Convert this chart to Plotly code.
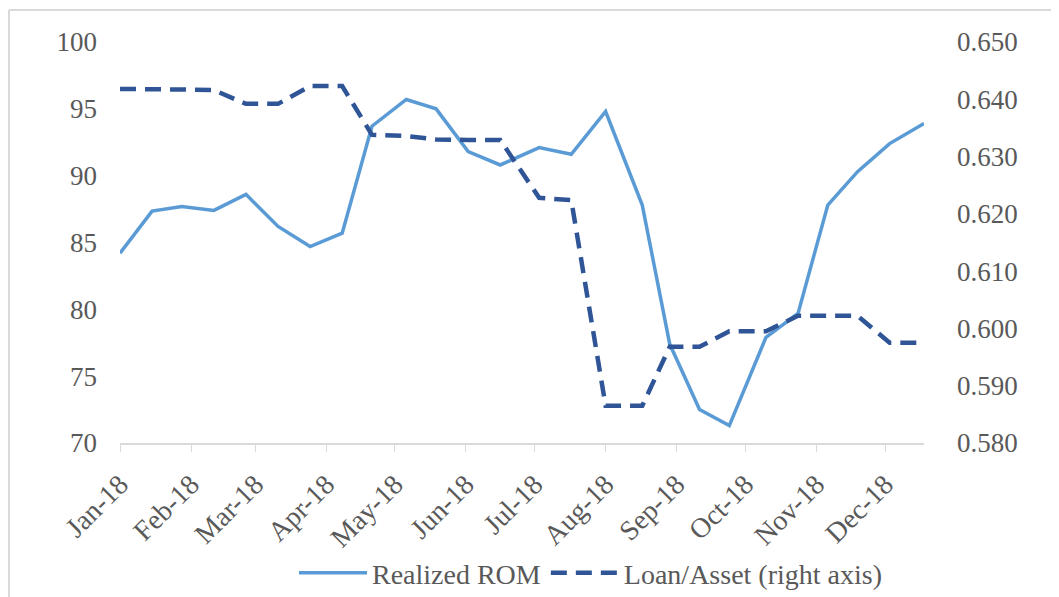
import plotly.graph_objects as go

dates = ["2018-01-01", "2018-01-15", "2018-01-28", "2018-02-11", "2018-02-25",
         "2018-03-11", "2018-03-25", "2018-04-08", "2018-04-21", "2018-05-06",
         "2018-05-19", "2018-06-02", "2018-06-16", "2018-07-03", "2018-07-17",
         "2018-08-01", "2018-08-17", "2018-08-29", "2018-09-11", "2018-09-24",
         "2018-10-10", "2018-10-24", "2018-11-06", "2018-11-19", "2018-12-03",
         "2018-12-18"]

realized_rom = [84.2, 87.35, 87.7, 87.4, 88.6, 86.2, 84.7, 85.7, 93.7, 95.7,
                95.0, 91.8, 90.8, 92.1, 91.6, 94.8, 87.8, 77.4, 72.5, 71.3,
                77.9, 79.7, 87.8, 90.3, 92.4, 93.9]

loan_asset = [0.6418, 0.6418, 0.6417, 0.6416, 0.6392, 0.6392, 0.6423, 0.6423,
              0.6338, 0.6336, 0.6330, 0.6329, 0.6329, 0.6228, 0.6224, 0.5865,
              0.5865, 0.5968, 0.5968, 0.5995, 0.5995, 0.6022, 0.6022, 0.6022,
              0.5975, 0.5975]

FONT = "Liberation Serif"
TXT = "#595959"

fig = go.Figure()
fig.add_trace(go.Scatter(x=dates, y=realized_rom, name="Realized ROM", mode="lines",
                         line=dict(color="#5B9BD5", width=3.5)))
fig.add_trace(go.Scatter(x=dates, y=loan_asset, name="Loan/Asset (right axis)", mode="lines",
                         yaxis="y2",
                         line=dict(color="#2F5597", width=4.5, dash="16px,9px")))

# page has an 8px body margin; figure coordinates are offset by it
OFF = 8
W, H = 1059 - OFF, 597 - OFF
L, T = 120 - OFF, 42 - OFF
R = W - (924 - OFF)
B = H - (443 - OFF)
pw, ph = W - L - R, H - T - B

def px(x):
    return (x - OFF - L) / pw

def py(y):
    return 1 - (y - OFF - T) / ph

fig.update_layout(
    width=W, height=H,
    margin=dict(l=L, r=R, t=T, b=B, autoexpand=False),
    paper_bgcolor="white", plot_bgcolor="white",
    font=dict(family=FONT, size=27, color=TXT),
    showlegend=True,
    legend=dict(orientation="h", x=px(591), xanchor="center",
                y=py(573), yanchor="middle",
                font=dict(family=FONT, size=28, color=TXT),
                itemwidth=68, traceorder="normal"),
    xaxis=dict(type="date", range=["2018-01-01", "2018-12-18"],
               dtick="M1", tick0="2018-01-01", tickformat="%b-%y",
               tickangle=-45, showgrid=False, zeroline=False, automargin=False,
               showline=True, linecolor="#D9D9D9", linewidth=1.5,
               ticks="outside", ticklen=7, tickcolor="#D9D9D9",
               ticklabelstandoff=5,
               tickfont=dict(family=FONT, size=28, color=TXT)),
    yaxis=dict(range=[70, 100], dtick=5, showgrid=False, zeroline=False,
               showline=False, ticks="", ticklabelstandoff=22, automargin=False,
               tickfont=dict(family=FONT, size=27, color=TXT)),
    yaxis2=dict(range=[0.58, 0.65], dtick=0.01, tickformat=".3f",
                overlaying="y", side="right", showgrid=False, zeroline=False,
                showline=False, ticks="", ticklabelstandoff=32, automargin=False,
                tickfont=dict(family=FONT, size=27, color=TXT)),
)

# chart-area border (left and top edges visible in reference)
bx = px(9)
by = py(10)
fig.add_shape(type="line", xref="paper", yref="paper", x0=bx, x1=bx, y0=py(620), y1=by,
              line=dict(color="#D9D9D9", width=2))
fig.add_shape(type="line", xref="paper", yref="paper", x0=bx, x1=px(1080), y0=by, y1=by,
              line=dict(color="#D9D9D9", width=2))

fig.write_html("out.html")
